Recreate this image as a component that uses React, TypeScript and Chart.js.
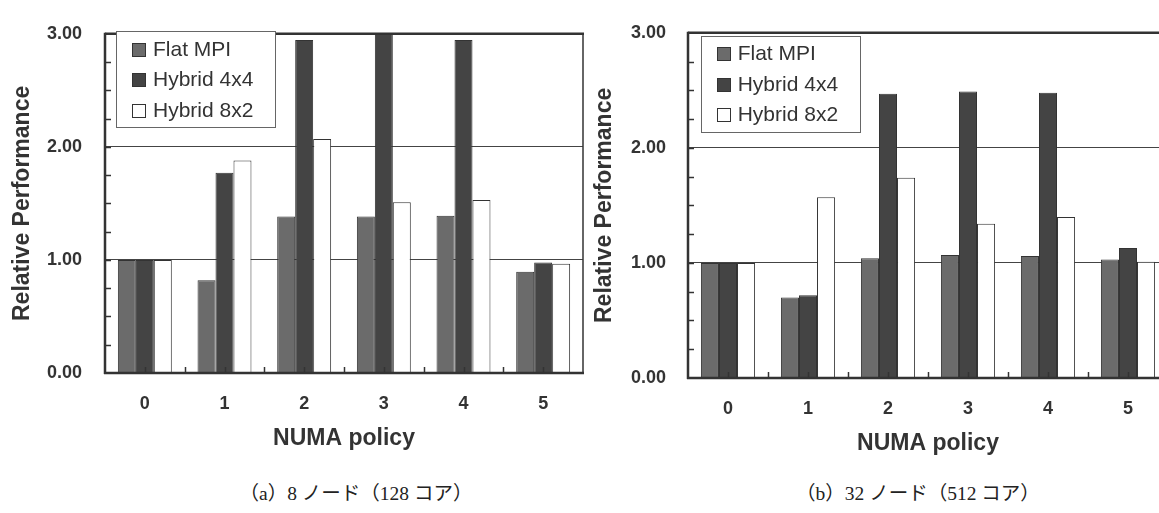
import React, { useEffect, useRef } from "react";
import { Chart, registerables } from "chart.js";

Chart.register(...registerables);

// ---- data ----
const policies = ["0", "1", "2", "3", "4", "5"];
const seriesNames = ["Flat MPI", "Hybrid 4x4", "Hybrid 8x2"];
const flatMpi8 = [1.0, 0.82, 1.385, 1.385, 1.39, 0.895];
const hybrid4x4_8 = [1.0, 1.77, 2.945, 3.0, 2.945, 0.977];
const hybrid8x2_8 = [1.0, 1.88, 2.07, 1.51, 1.53, 0.966];
const flatMpi32 = [1.0, 0.7, 1.04, 1.07, 1.06, 1.03];
const hybrid4x4_32 = [1.0, 0.72, 2.47, 2.49, 2.48, 1.13];
const hybrid8x2_32 = [1.0, 1.57, 1.74, 1.34, 1.4, 1.01];
const yTicks = [0, 1, 2, 3];
const yTitle = "Relative Performance";
const xTitle = "NUMA policy";
const captions = ["（a）8 ノード（128 コア）", "（b）32 ノード（512 コア）"];

// ---- styles ----
const FONT = '"Liberation Sans", Arial, sans-serif';
const INK = "#333";
const fills = ["#6b6b6b", "#444444", "#ffffff"];

const framePlugin = {
  id: "frameDeco",
  afterDatasetsDraw(chart: any) {
    const { ctx, chartArea: a, scales } = chart;
    const x = scales.x;
    const y = scales.y;
    ctx.save();
    ctx.strokeStyle = INK;
    // y minor ticks every 0.25 (inward)
    ctx.lineWidth = 1.5;
    for (let i = 1; i < 12; i++) {
      const py = Math.round(y.getPixelForValue(i * 0.25)) + 0.5;
      ctx.beginPath();
      ctx.moveTo(a.left, py);
      ctx.lineTo(a.left + 6, py);
      ctx.stroke();
    }
    // x ticks at centers and category boundaries (inward)
    const cw = x.getPixelForValue(1) - x.getPixelForValue(0);
    for (let i = 0; i < policies.length; i++) {
      const c = x.getPixelForValue(i);
      for (const px of [c, c + cw / 2]) {
        if (px >= a.right - 1) continue;
        const rx = Math.round(px) + 0.5;
        ctx.beginPath();
        ctx.moveTo(rx, a.bottom);
        ctx.lineTo(rx, a.bottom - 6);
        ctx.stroke();
      }
    }
    // right border (thin)
    ctx.lineWidth = 1.5;
    ctx.beginPath();
    ctx.moveTo(a.right, a.top);
    ctx.lineTo(a.right, a.bottom);
    ctx.stroke();
    // top, left, bottom (thick)
    ctx.lineWidth = 2.5;
    ctx.beginPath();
    ctx.moveTo(a.left, a.top);
    ctx.lineTo(a.right + 1, a.top);
    ctx.stroke();
    ctx.beginPath();
    ctx.moveTo(a.left, a.top - 1);
    ctx.lineTo(a.left, a.bottom + 1);
    ctx.stroke();
    ctx.beginPath();
    ctx.moveTo(a.left - 1, a.bottom);
    ctx.lineTo(a.right + 1, a.bottom);
    ctx.stroke();
    ctx.restore();
  },
  afterDraw(chart: any, _args: any, opts: any) {
    const { ctx } = chart;
    const bx = opts.x;
    const by = opts.y;
    const bw = 159;
    const bh = 96;
    ctx.save();
    ctx.fillStyle = "#fff";
    ctx.fillRect(bx, by, bw, bh);
    ctx.strokeStyle = "#666";
    ctx.lineWidth = 1;
    ctx.strokeRect(Math.round(bx) + 0.5, Math.round(by) + 0.5, bw, bh);
    ctx.font = `21px ${FONT}`;
    ctx.textBaseline = "middle";
    ctx.textAlign = "left";
    chart.data.datasets.forEach((ds: any, i: number) => {
      const ry = by + 18 + i * 30.5;
      const mx = Math.round(bx + 16) + 0.5;
      const my = Math.round(ry - 6.5) + 0.5;
      ctx.fillStyle = ds.backgroundColor;
      ctx.fillRect(mx, my, 13, 13);
      ctx.strokeStyle = INK;
      ctx.strokeRect(mx, my, 13, 13);
      ctx.fillStyle = INK;
      ctx.fillText(ds.label, bx + 37, ry + 1);
    });
    ctx.restore();
  },
};

type Geo = {
  pad: { left: number; top: number; right: number; bottom: number };
  yWidth: number;
  xHeight: number;
  yTickPad: number;
  yTitlePad: number;
  xTickPad: number;
  xTitlePad: number;
  legend: { x: number; y: number };
};

function makeConfig(flat: number[], h44: number[], h82: number[], g: Geo): any {
  const series = [flat, h44, h82];
  return {
    type: "bar",
    data: {
      labels: policies,
      datasets: series.map((d, i) => ({
        label: seriesNames[i],
        data: d,
        backgroundColor: fills[i],
        borderColor: INK,
        borderWidth: 1,
        borderSkipped: "start",
        barPercentage: 1,
        categoryPercentage: 0.677,
      })),
    },
    options: {
      responsive: false,
      animation: false,
      devicePixelRatio: 1,
      layout: { padding: g.pad },
      plugins: {
        legend: { display: false },
        tooltip: { enabled: false },
        frameDeco: g.legend,
      },
      scales: {
        x: {
          grid: { display: false, drawTicks: false },
          border: { display: false },
          ticks: {
            color: INK,
            padding: g.xTickPad,
            font: { family: FONT, size: 18, weight: "bold" },
            maxRotation: 0,
          },
          title: {
            display: true,
            text: xTitle,
            color: INK,
            font: { family: FONT, size: 23, weight: "bold" },
            padding: { top: 0, bottom: g.xTitlePad },
          },
          afterFit: (s: any) => {
            s.height = g.xHeight;
          },
        },
        y: {
          min: 0,
          max: 3,
          border: { display: false },
          grid: {
            drawTicks: false,
            lineWidth: 1,
            color: (c: any) =>
              c.tick && (c.tick.value === 1 || c.tick.value === 2) ? "#444" : "rgba(0,0,0,0)",
          },
          afterBuildTicks: (s: any) => {
            s.ticks = yTicks.map((v) => ({ value: v }));
          },
          ticks: {
            color: INK,
            padding: g.yTickPad,
            font: { family: FONT, size: 18, weight: "bold" },
            callback: (v: any) => Number(v).toFixed(2),
          },
          title: {
            display: true,
            text: yTitle,
            color: INK,
            font: { family: FONT, size: 23, weight: "bold" },
            padding: { top: g.yTitlePad, bottom: 0 },
          },
          afterFit: (s: any) => {
            s.width = g.yWidth;
          },
        },
      },
    },
    plugins: [framePlugin],
  };
}

function Panel(props: { left: number; top: number; width: number; height: number; config: any }) {
  const ref = useRef<HTMLCanvasElement>(null);
  useEffect(() => {
    const chart = new Chart(ref.current as HTMLCanvasElement, props.config);
    return () => chart.destroy();
  }, []);
  return (
    <canvas
      ref={ref}
      width={props.width}
      height={props.height}
      style={{
        position: "absolute",
        left: props.left,
        top: props.top,
        width: props.width,
        height: props.height,
        display: "block",
      }}
    />
  );
}

const leftGeo: Geo = {
  pad: { left: 0, top: 22, right: 7, bottom: 0 },
  yWidth: 105,
  xHeight: 97,
  yTickPad: 23,
  yTitlePad: 9,
  xTickPad: 20,
  xTitlePad: 18,
  legend: { x: 116, y: 31 },
};

const rightGeo: Geo = {
  pad: { left: 0, top: 27, right: 14, bottom: 0 },
  yWidth: 106,
  xHeight: 92,
  yTickPad: 22,
  yTitlePad: 9,
  xTickPad: 20,
  xTitlePad: 13,
  legend: { x: 118.7, y: 35.7 },
};

export default function App() {
  const capStyle = (cx: number): React.CSSProperties => ({
    position: "absolute",
    left: cx,
    top: 483,
    transform: "translateX(-50%)",
    whiteSpace: "nowrap",
    fontFamily: '"Liberation Serif", "Noto Sans CJK JP", serif',
    fontSize: 19.5,
    lineHeight: "22px",
    color: "#222",
  });
  return (
    <div
      style={{
        position: "absolute",
        left: 0,
        top: 0,
        width: 1159,
        height: 513,
        overflow: "hidden",
        background: "#fff",
      }}
    >
      <Panel left={0} top={0} width={590} height={470} config={makeConfig(flatMpi8, hybrid4x4_8, hybrid8x2_8, leftGeo)} />
      <Panel left={582} top={0} width={600} height={470} config={makeConfig(flatMpi32, hybrid4x4_32, hybrid8x2_32, rightGeo)} />
      <div style={capStyle(356)}>{captions[0]}</div>
      <div style={capStyle(918)}>{captions[1]}</div>
    </div>
  );
}
